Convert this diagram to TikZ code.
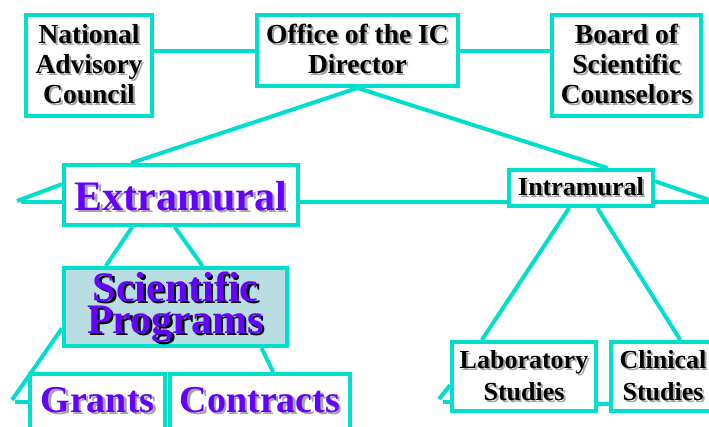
\documentclass[tikz,border=0pt]{standalone}
\usepackage{fontspec}
\setmainfont{Liberation Serif}
\usetikzlibrary{calc}
\definecolor{teal1}{RGB}{0,222,204}
\definecolor{purp}{RGB}{102,0,255}
\definecolor{shgray}{RGB}{165,165,165}
\definecolor{progfill}{RGB}{184,222,228}
\newcommand\shcol{shgray}
\newlength\shoff \setlength\shoff{2pt}
\newcommand\sh[1]{\rlap{\kern\shoff\raisebox{-\shoff}{\color{\shcol}#1}}#1}
\newcommand\stk[1]{\vtop{\lineskiplimit=-1000pt\lineskip=0pt\halign{\hfil##\hfil\cr#1\crcr}}}
\tikzset{
  box/.style={draw=teal1, line width=4pt, inner sep=0pt, anchor=base, fill=white},
  small/.style={font=\fontsize{26}{30}\selectfont\bfseries, text=black},
  top/.style={font=\fontsize{27.5}{30}\selectfont\bfseries, text=black},
  big/.style={font=\fontsize{42}{32}\selectfont\bfseries, text=purp},
  mid/.style={font=\fontsize{38}{32}\selectfont\bfseries, text=purp},
  conn/.style={draw=teal1, line width=4pt}
}
\begin{document}
\begin{tikzpicture}[x=1pt,y=-1pt]
\useasboundingbox (0,0) rectangle (709,426);
\clip (0,0) rectangle (709,426);
% boxes
\node[box, top, text height=28pt, text depth=73pt, minimum width=126pt] (nac) at (89,43)
  {\stk{\sh{National}\cr\sh{Advisory}\cr\sh{Council}}};
\node[box, top, text height=28pt, text depth=43pt, minimum width=201pt] (office) at (357.5,43)
  {\stk{\sh{Office of the IC}\cr\sh{Director}}};
\node[box, top, text height=28pt, text depth=73pt, minimum width=149pt] (board) at (626.5,43)
  {\stk{\sh{Board of}\cr\sh{Scientific}\cr\sh{Counselors}}};
\node[box, big, text height=45pt, text depth=15pt, minimum width=234pt] (ext) at (181,210)
  {\setlength\shoff{2.5pt}\sh{Extramural}};
\node[box, small, text height=25pt, text depth=11pt, minimum width=144pt] (int) at (581,195)
  {\sh{Intramural}};
\node[box, big, fill=progfill, text height=33pt, text depth=45pt, minimum width=223pt] (prog) at (175.5,301)
  {\renewcommand\shcol{black}\setlength\shoff{2.5pt}\stk{\sh{Scientific}\cr\sh{Programs}}};
\node[box, mid, text height=38pt, text depth=40pt, minimum width=135pt] (grants) at (97.5,412)
  {\setlength\shoff{2.5pt}\sh{Grants}};
\node[box, mid, text height=38pt, text depth=40pt, minimum width=180pt] (contracts) at (260,412)
  {\setlength\shoff{2.5pt}\sh{Contracts}};
\node[box, small, font=\fontsize{26}{32}\selectfont\bfseries, text height=26pt, text depth=43pt, minimum width=144pt] (lab) at (524,368)
  {\stk{\sh{Laboratory}\cr\sh{Studies}}};
\node[box, small, font=\fontsize{26}{32}\selectfont\bfseries, text height=26pt, text depth=43pt, minimum width=104pt] (clin) at (663,368)
  {\stk{\sh{Clinical}\cr\sh{Studies}}};
% free ends
\coordinate (hl) at (21,202);
\coordinate (hr) at (715,202);
\coordinate (lt) at (17,201);
\coordinate (pl) at (12,400);
\coordinate (plh) at (15,402);
\coordinate (ll) at (439,399);
\coordinate (llh) at (443,402);
% connectors
\draw[conn] (office.west -| nac.east) -- (office.west);
\draw[conn] (office.east) -- (office.east -| board.west);
\draw[conn] (office.south) -- ($(ext.north west)!0.29!(ext.north east)$);
\draw[conn] (office.south) -- ($(int.north west)!0.68!(int.north east)$);
\draw[conn] (hl) -- (hl -| ext.west);
\draw[conn] (ext.east |- hl) -- (int.west |- hl);
\draw[conn] (int.east |- hl) -- (hr);
\draw[conn] ($(ext.north west)!0.33!(ext.south west)$) -- (lt);
\draw[conn] ($(int.north east)!0.33!(int.south east)$) -- (hr);
\draw[conn] ($(ext.south west)!0.295!(ext.south east)$) -- ($(prog.north west)!0.193!(prog.north east)$);
\draw[conn] ($(ext.south west)!0.474!(ext.south east)$) -- ($(prog.north west)!0.619!(prog.north east)$);
\draw[conn] ($(prog.north west)!0.76!(prog.south west)$) -- (pl);
\draw[conn] (plh) -- (plh -| grants.west);
\draw[conn] ($(prog.south west)!0.879!(prog.south east)$) -- ($(contracts.north west)!0.572!(contracts.north east)$);
\draw[conn] ($(int.south west)!0.42!(int.south east)$) -- ($(lab.north west)!0.215!(lab.north east)$);
\draw[conn] ($(int.south west)!0.61!(int.south east)$) -- ($(clin.north west)!0.66!(clin.north east)$);
\path ($(lab.north east)!0.87!(lab.south east)$) coordinate (lc);
\draw[conn] (lc) -- (lc -| clin.west);
\draw[conn] ($(lab.north west)!0.62!(lab.south west)$) -- (ll);
\draw[conn] (llh) -- (llh -| lab.west);
\end{tikzpicture}
\end{document}
